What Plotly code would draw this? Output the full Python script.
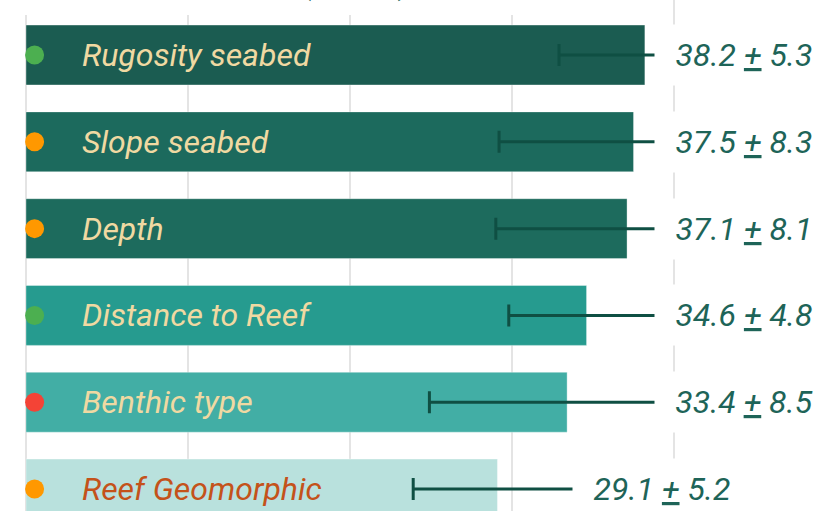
import plotly.graph_objects as go

# ---------------- data ----------------
variables = ["Rugosity seabed", "Slope seabed", "Depth", "Distance to Reef",
             "Benthic type", "Reef Geomorphic"]
means = [38.2, 37.5, 37.1, 34.6, 33.4, 29.1]
sds = [5.3, 8.3, 8.1, 4.8, 8.5, 5.2]
dot_colors = ["#4caf50", "#ff9800", "#ff9800", "#4caf50", "#f44336", "#ff9800"]
bar_colors = ["#1b5c51", "#1c6a5d", "#1d6b5d", "#269b8f", "#42aea5", "#b9e1dd"]
label_colors = ["#f0d9a2", "#f0d9a2", "#f0d9a2", "#f0d9a2", "#f0d9a2", "#c4521a"]
title_text = "<i>Variable importance (%MSE), mean <u>+</u> SD</i>"

# ---------------- style ----------------
FONT = "Roboto"
FS = 32
VAL_COLOR = "#1e6458"
ERR_COLOR = "#0f4f43"
GRID = "#e4e4e4"
H = 511
n = len(variables)
ypos = list(range(n))

fig = go.Figure()
fig.add_trace(go.Bar(
    x=means, y=ypos, orientation="h",
    marker=dict(color=bar_colors, line=dict(color="rgba(255,255,255,0.35)", width=1)),
    width=0.69,
    error_x=dict(type="data", array=sds, color=ERR_COLOR, thickness=3, width=11),
    hoverinfo="skip", showlegend=False,
))
fig.add_trace(go.Scatter(
    x=[0.53] * n, y=ypos, mode="markers",
    marker=dict(color=dot_colors, size=19, line=dict(width=0)),
    cliponaxis=False, hoverinfo="skip", showlegend=False,
))

annotations = []
for i in range(n):
    # value label (white box hides the right part of the whisker)
    annotations.append(dict(
        x=min(means[i] * 1.35, 44.3), y=ypos[i], xref="x", yref="y",
        text=f"<i>{means[i]:.1f} <u>+</u> {sds[i]:.1f}</i>",
        showarrow=False, xanchor="center", yanchor="middle",
        font=dict(family=FONT, size=FS, color=VAL_COLOR),
        bgcolor="white", borderpad=11, width=156, height=38,
    ))
    # category label inside the bar
    annotations.append(dict(
        x=0, y=ypos[i], xref="x", yref="y", xshift=54,
        text=f"<i>{variables[i]}</i>",
        showarrow=False, xanchor="left", yanchor="middle",
        font=dict(family=FONT, size=FS, color=label_colors[i]),
    ))
# title (mostly above the visible area)
annotations.append(dict(
    x=0, y=1, xref="paper", yref="paper", yshift=17, xshift=-10,
    text=title_text, showarrow=False, xanchor="left", yanchor="middle",
    font=dict(family=FONT, size=FS, color=VAL_COLOR), borderpad=0,
))

# white panel behind the title, hiding the top of the grid lines
shapes = [dict(type="rect", xref="paper", yref="paper", layer="above",
               x0=-0.05, x1=0.8, y0=1 - 15 / H, y1=1.05,
               fillcolor="white", line=dict(width=0))]

fig.update_layout(
    width=820, height=H,
    margin=dict(l=26, r=0, t=0, b=0),
    paper_bgcolor="white", plot_bgcolor="white",
    font=dict(family=FONT),
    annotations=annotations, shapes=shapes,
    xaxis=dict(range=[0, 49.01], dtick=10, tick0=0, showticklabels=False,
               showgrid=True, gridcolor=GRID, gridwidth=1.5,
               zeroline=True, zerolinecolor=GRID, zerolinewidth=1.5,
               showline=False, ticks=""),
    yaxis=dict(range=[5.253, -0.634], showticklabels=False, ticks="",
               showgrid=False, zeroline=False, showline=False),
)

fig.write_html("out.html")
